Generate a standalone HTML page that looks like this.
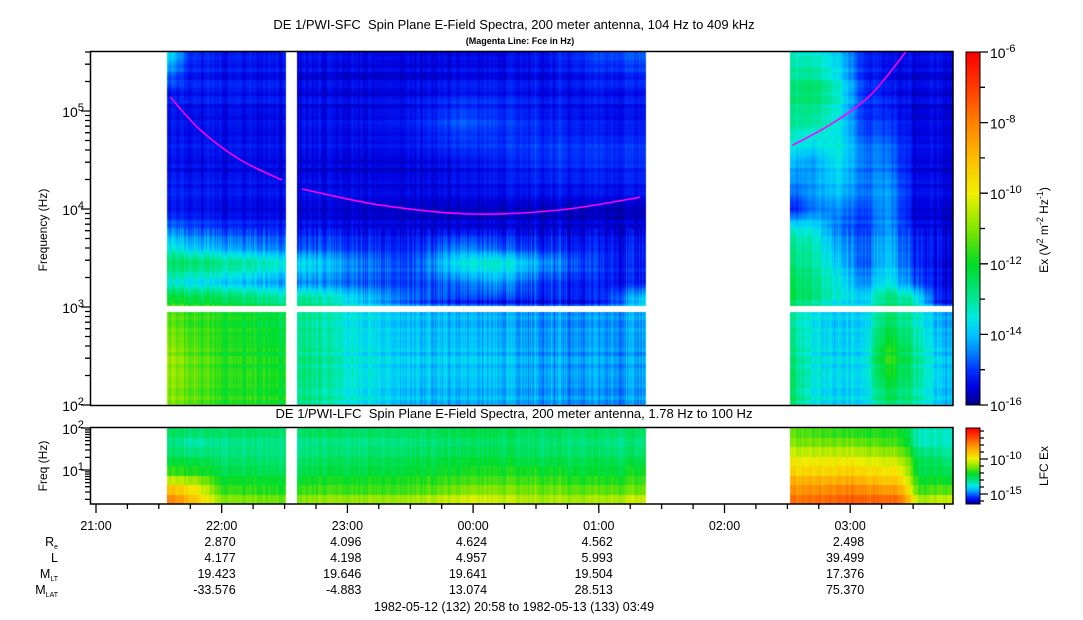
<!DOCTYPE html>
<html><head><meta charset="utf-8">
<style>
html,body{margin:0;padding:0;background:#fff;}
body{width:1083px;height:620px;position:relative;overflow:hidden;font-family:"Liberation Sans",sans-serif;}
canvas,svg{position:absolute;left:0;top:0;}
</style></head>
<body>
<canvas id="heat" width="1083" height="620"></canvas>
<svg id="ov" width="1083" height="620" xmlns="http://www.w3.org/2000/svg" font-family="Liberation Sans, sans-serif"></svg>
<script>
// ---------- DATA ----------
const sfcFreqNodes = [2.0, 2.5, 2.95, 3.05, 3.25, 3.45, 3.6, 3.8, 4.0, 4.5, 4.9, 5.2, 5.6];
const sfcA_times = [21.56, 21.75, 22.0, 22.25, 22.52];
const sfcA_vals = [
 [-11.0,-10.8,-11.3,-11.8,-13.5,-12.5,-13.5,-14.5,-15.2,-15.3,-15.3,-15.2,-13.5],
 [-11.3,-11.3,-11.6,-12.0,-13.8,-12.5,-14.0,-14.8,-15.3,-15.4,-15.4,-15.3,-15.2],
 [-11.8,-11.8,-11.8,-12.2,-14.0,-12.8,-14.3,-15.0,-15.4,-15.4,-15.4,-15.3,-15.4],
 [-11.8,-11.9,-12.0,-12.5,-14.2,-13.0,-14.5,-15.1,-15.4,-15.4,-15.4,-15.3,-15.4],
 [-11.9,-12.0,-12.2,-12.8,-14.4,-13.3,-14.6,-15.1,-15.4,-15.4,-15.4,-15.3,-15.4]];
const sfcB_times = [22.6, 23.0, 23.5, 23.9, 24.2, 24.6, 25.0, 25.38];
const sfcB_vals = [
 [-12.8,-12.8,-12.8,-12.6,-14.5,-13.5,-14.9,-15.3,-15.5,-15.5,-15.4,-15.5,-15.5],
 [-13.5,-13.5,-13.5,-13.5,-14.8,-14.3,-15.1,-15.4,-15.5,-15.5,-15.4,-15.5,-15.5],
 [-14.1,-14.0,-14.0,-14.8,-15.1,-14.9,-15.3,-15.5,-15.6,-15.5,-15.3,-15.5,-15.6],
 [-14.2,-14.0,-14.1,-15.2,-14.7,-13.5,-14.6,-15.5,-15.6,-15.3,-14.8,-15.3,-15.6],
 [-14.2,-14.1,-14.2,-15.3,-14.4,-13.3,-14.9,-15.5,-15.6,-15.2,-15.0,-15.3,-15.6],
 [-14.3,-14.3,-14.3,-15.3,-15.1,-14.3,-15.2,-15.5,-15.6,-15.0,-15.2,-15.4,-15.4],
 [-14.4,-14.3,-14.3,-15.3,-15.3,-15.0,-15.3,-15.5,-15.6,-15.0,-15.3,-15.3,-15.0],
 [-14.3,-14.3,-14.1,-13.5,-15.3,-15.2,-15.3,-15.5,-15.6,-15.0,-15.3,-15.3,-14.8]];
const sfcC_times = [26.52, 26.7, 26.9, 27.1, 27.3, 27.5, 27.7, 27.82];
const sfcC_vals = [
 [-12.5,-12.8,-13.0,-12.5,-12.5,-12.8,-13.0,-13.5,-15.3,-14.0,-13.0,-12.8,-13.5],
 [-13.5,-13.5,-13.5,-12.8,-12.8,-13.0,-13.2,-13.5,-14.5,-14.2,-13.0,-12.5,-13.5],
 [-13.8,-13.8,-13.8,-13.5,-13.5,-13.8,-14.2,-14.5,-14.3,-13.5,-13.5,-13.3,-14.0],
 [-13.8,-13.8,-13.8,-13.8,-14.5,-14.8,-14.8,-15.0,-14.8,-14.5,-15.0,-15.0,-15.2],
 [-12.5,-11.5,-12.5,-12.5,-13.5,-13.8,-14.0,-14.2,-14.2,-14.5,-15.0,-15.3,-15.5],
 [-13.0,-12.8,-13.2,-13.0,-14.8,-15.0,-15.2,-15.3,-15.4,-15.4,-15.5,-15.5,-15.5],
 [-14.0,-14.0,-14.2,-15.3,-15.5,-15.5,-15.5,-15.5,-15.5,-15.5,-15.5,-15.5,-15.5],
 [-14.0,-14.0,-14.2,-15.3,-15.5,-15.5,-15.5,-15.5,-15.5,-15.5,-15.5,-15.5,-15.5]];

const lfcFreqNodes = [0.25, 0.45, 0.7, 1.0, 1.3, 1.6, 2.0];
const lfcA_times = [21.56, 21.8, 22.0, 22.52];
const lfcA_vals = [
 [-7.5,-8.2,-10.0,-11.8,-12.5,-13.0,-12.5],
 [-9.0,-9.5,-10.5,-12.0,-12.5,-13.5,-12.5],
 [-10.8,-11.5,-12.0,-12.5,-12.8,-13.2,-12.5],
 [-11.0,-11.8,-12.0,-12.5,-12.8,-13.0,-12.5]];
const lfcB_times = [22.6, 23.5, 24.0, 24.5, 25.0, 25.38];
const lfcB_vals = [
 [-10.8,-11.5,-12.0,-12.5,-12.8,-13.2,-12.5],
 [-10.5,-11.5,-11.8,-12.3,-12.5,-13.0,-12.5],
 [-10.0,-10.8,-11.5,-12.0,-12.3,-12.8,-12.3],
 [-10.5,-11.0,-11.5,-12.0,-12.5,-12.8,-12.5],
 [-10.5,-11.2,-11.8,-12.3,-12.5,-13.0,-12.5],
 [-10.0,-11.0,-11.5,-12.0,-12.5,-13.0,-12.5]];
const lfcC_times = [26.52, 27.0, 27.4, 27.55, 27.82];
const lfcC_vals = [
 [-7.5,-8.0,-8.5,-9.5,-10.0,-11.0,-11.5],
 [-7.0,-7.5,-8.3,-9.3,-10.0,-11.0,-12.0],
 [-7.2,-8.0,-9.0,-9.8,-10.5,-11.5,-12.0],
 [-10.5,-11.5,-12.0,-12.5,-12.5,-13.5,-13.5],
 [-10.0,-11.0,-12.0,-12.5,-13.0,-13.5,-13.5]];

const fceA_t = [21.59, 21.83, 22.15, 22.48];
const fceA_f = [5.143, 4.806, 4.5, 4.296];
const fceB_t = [22.64, 23.26, 23.975, 24.69, 25.33];
const fceB_f = [4.204, 4.04, 3.949, 3.99, 4.12];
const fceC_t = [26.54, 26.84, 27.16, 27.44];
const fceC_f = [4.65, 4.86, 5.16, 5.6];

const timeTicks = ["21:00","22:00","23:00","00:00","01:00","02:00","03:00"];
const rowLabels = ["R","L","M","M"];
const rowSubs = ["e","","LT","LAT"];
const colHours = [22, 23, 24, 25, 27];
const ReVals = ["2.870","4.096","4.624","4.562","2.498"];
const LVals = ["4.177","4.198","4.957","5.993","39.499"];
const MLTVals = ["19.423","19.646","19.641","19.504","17.376"];
const MLATVals = ["-33.576","-4.883","13.074","28.513","75.370"];

// ---------- SCALES ----------
const xT = h => 96 + (h - 21) * 125.7;
const hOfX = x => 21 + (x - 96) / 125.7;
const ySFC = lf => 111 - (lf - 5) * 98;
const lfSFC = y => 5 - (y - 111) / 98;
const yLFC = lf => 470 - (lf - 1) * 42;
const lfLFC = y => 1 - (y - 470) / 42;
const yCB = v => 52 + (-6 - v) * 35.3;
const yCB2 = v => 459 + (-10 - v) * 7;

const stops = [[0,0,0,130],[0.05,0,0,225],[0.1,0,50,255],[0.15,0,130,255],[0.2,0,195,255],[0.25,0,235,225],[0.3,0,230,150],[0.4,0,220,40],[0.5,130,230,0],[0.6,240,240,0],[0.7,255,190,0],[0.8,255,130,0],[0.9,255,60,0],[1,255,0,0]];
function cmap(t){t=Math.max(0,Math.min(1,t));for(let i=1;i<stops.length;i++){if(t<=stops[i][0]){const a=stops[i-1],b=stops[i],u=(t-a[0])/(b[0]-a[0]);return [a[1]+(b[1]-a[1])*u,a[2]+(b[2]-a[2])*u,a[3]+(b[3]-a[3])*u];}}return [255,0,0];}
function interp(arr,v){if(v<=arr[0])return [0,0];for(let i=1;i<arr.length;i++){if(v<=arr[i])return [i-1,(v-arr[i-1])/(arr[i]-arr[i-1])];}return [arr.length-2,1];}
function sample(times,freqs,vals,h,lf){const [i,u]=interp(times,h);const [j,w]=interp(freqs,lf);
 const a=vals[i][j],b=vals[i][j+1],c=vals[i+1][j],d=vals[i+1][j+1];
 return (a*(1-w)+b*w)*(1-u)+(c*(1-w)+d*w)*u;}
function hs(n){const s=Math.sin(n*12.9898)*43758.5453;return s-Math.floor(s);}

const cv=document.getElementById('heat');const ctx=cv.getContext('2d');
const img=ctx.createImageData(1083,620);const D=img.data;
function px(x,y,c){const k=(y*1083+x)*4;D[k]=c[0];D[k+1]=c[1];D[k+2]=c[2];D[k+3]=255;}
const segs=[[167,286,sfcA_times,sfcA_vals,lfcA_times,lfcA_vals],[297,646,sfcB_times,sfcB_vals,lfcB_times,lfcB_vals],[790,953,sfcC_times,sfcC_vals,lfcC_times,lfcC_vals]];
segs.forEach(s=>{
 for(let x=s[0];x<s[1];x++){
  const h=hOfX(x+0.5);const cn=(hs(x)-0.5)*0.7;const cn2=(hs(Math.floor(x/3)+77)-0.5)*0.5;
  for(let y=51;y<405;y++){
   if(y>=306&&y<312)continue;
   const lf=lfSFC(y+0.5);const rn=(hs(Math.floor(y/4)*7+3)-0.5)*0.35;
   let v=sample(s[2],sfcFreqNodes,s[3],h,lf)+cn*(lf<3.8?1:0.4)+cn2*0.5+rn;
   px(x,y,cmap((v+16)/10));
  }
  for(let y=428;y<504;y++){
   const band=Math.floor((y-428)/9.5);const lf=lfLFC(428+band*9.5+4.75);
   let v=sample(s[4],lfcFreqNodes,s[5],h,lf)+cn*0.9+cn2*0.4;
   px(x,y,cmap((v+16.4)/10.8));
  }
 }
});
for(let y=52;y<405;y++){const v=-6-(y-52)/35.3;const c=cmap((v+16)/10);for(let x=966;x<980;x++)px(x,y,c);}
for(let y=428;y<504;y++){const v=-10-(y-459)/7;const c=cmap((v+16.4)/10.8);for(let x=966;x<980;x++)px(x,y,c);}
ctx.putImageData(img,0,0);

// ---------- OVERLAY ----------
const NS='http://www.w3.org/2000/svg';const sv=document.getElementById('ov');
function el(t,a,p){const e=document.createElementNS(NS,t);for(const k in a)e.setAttribute(k,a[k]);(p||sv).appendChild(e);return e;}
function txt(x,y,s,size,anchor,name,extra){const e=el('text',Object.assign({x:x,y:y,'font-size':size,'text-anchor':anchor||'start',fill:'#000'},extra||{}));e.textContent=s;


return e;}
function pow(x,y,base,exp,size,name,anchor){const e=el('text',{x:x,y:y,'font-size':size,'text-anchor':anchor||'end',fill:'#000'});


const a=el('tspan',{},e);a.textContent=base;const b=el('tspan',{dy:-6,'font-size':size*0.8},e);b.textContent=exp;return e;}

const f1=el('rect',{x:90.5,y:51.5,width:862.5,height:354,fill:'none',stroke:'#000','stroke-width':1.5});


const f2=el('rect',{x:90.5,y:427.5,width:862.5,height:76.5,fill:'none',stroke:'#000','stroke-width':1.5});


const f3=el('rect',{x:966,y:52,width:14,height:353,fill:'none',stroke:'#000','stroke-width':1});


const f4=el('rect',{x:966,y:428,width:14,height:76,fill:'none',stroke:'#000','stroke-width':1});



// fce lines (smooth Catmull-Rom through data points)
[[fceA_t,fceA_f],[fceB_t,fceB_f],[fceC_t,fceC_f]].forEach(p=>{
 const P=p[0].map((t,k)=>[xT(t),ySFC(p[1][k])]);
 let d=`M${P[0][0].toFixed(1)},${P[0][1].toFixed(1)}`;
 for(let i=0;i<P.length-1;i++){const p0=P[Math.max(0,i-1)],p1=P[i],p2=P[i+1],p3=P[Math.min(P.length-1,i+2)];
  const c1=[p1[0]+(p2[0]-p0[0])/6,p1[1]+(p2[1]-p0[1])/6],c2=[p2[0]-(p3[0]-p1[0])/6,p2[1]-(p3[1]-p1[1])/6];
  d+=`C${c1[0].toFixed(1)},${c1[1].toFixed(1)} ${c2[0].toFixed(1)},${c2[1].toFixed(1)} ${p2[0].toFixed(1)},${p2[1].toFixed(1)}`;}
 const l=el('path',{d:d,fill:'none',stroke:'#ff00ff','stroke-width':1.6});
 
 
});

let tk='';
for(let d=2;d<=5;d++){for(let m=1;m<10;m++){const lf=d+Math.log10(m);if(lf>5.612)break;const y=ySFC(lf);tk+=`M90 ${y.toFixed(1)}h${m==1?-9:-5}`;}}
for(let d=0;d<=1;d++){for(let m=1;m<10;m++){const lf=d+Math.log10(m);if(lf<0.25||lf>2)continue;const y=yLFC(lf);tk+=`M90 ${y.toFixed(1)}h${m==1?-9:-5}`;}}
tk+=`M90 ${yLFC(2)}h-9`;
for(let v=-6;v>=-16;v--){tk+=`M980 ${yCB(v).toFixed(1)}h${v%2==0?8:5}`;}
for(let v=-6;v>=-16;v--){const y=yCB2(v);if(y<428||y>504)continue;tk+=`M980 ${y.toFixed(1)}h${(v==-10||v==-15)?8:4}`;}
for(let q=0;q<=27;q++){const h=21+q*0.25;const x=xT(h);if(x>953)break;tk+=`M${x.toFixed(1)} 504v${q%4==0?9:5}`;}
const tp=el('path',{d:tk,stroke:'#000','stroke-width':1.3,fill:'none'});



for(let d=2;d<=5;d++)pow(84,ySFC(d)+6,'10',String(d),14,'sfc-y-tick-label');
pow(84,yLFC(2)+6,'10','2',14,'lfc-y-tick-label');
pow(84,yLFC(1)+6,'10','1',14,'lfc-y-tick-label');
for(let v=-6;v>=-16;v-=2)pow(990,yCB(v)+6,'10',String(v),14,'colorbar-tick-label','start');
pow(990,yCB2(-10)+6,'10','-10',14,'lfc-colorbar-tick-label','start');
pow(990,yCB2(-15)+6,'10','-15',14,'lfc-colorbar-tick-label','start');

txt(47,230,'Frequency (Hz)',12,'middle','sfc-y-axis-title',{transform:'rotate(-90 47 230)'});
txt(47,466,'Freq (Hz)',12,'middle','lfc-y-axis-title',{transform:'rotate(-90 47 466)'});
const ct=el('text',{x:1048,y:230,'font-size':12,'text-anchor':'middle',transform:'rotate(-90 1048 230)'});


ct.innerHTML='Ex (V<tspan dy="-5" font-size="9">2</tspan><tspan dy="5"> m</tspan><tspan dy="-5" font-size="9">-2</tspan><tspan dy="5"> Hz</tspan><tspan dy="-5" font-size="9">-1</tspan><tspan dy="5">)</tspan>';
txt(1048,466,'LFC Ex',12,'middle','lfc-colorbar-title',{transform:'rotate(-90 1048 466)'});

txt(514,29,'DE 1/PWI-SFC\u00a0\u00a0Spin Plane E-Field Spectra, 200 meter antenna, 104 Hz to 409 kHz',13,'middle','sfc-chart-title');
txt(520,44,'(Magenta Line: Fce in Hz)',9,'middle','sfc-subtitle',{'font-weight':'bold'});
txt(514,418,'DE 1/PWI-LFC\u00a0\u00a0Spin Plane E-Field Spectra, 200 meter antenna, 1.78 Hz to 100 Hz',13,'middle','lfc-chart-title');

timeTicks.forEach((s,i)=>txt(xT(21+i),530,s,12.5,'middle','time-tick-label'));
const rowY=[546,562,578,594];
rowLabels.forEach((s,i)=>{const e=el('text',{x:58,y:rowY[i],'font-size':12.5,'text-anchor':'end'});


const a=el('tspan',{},e);a.textContent=s;if(rowSubs[i]){const b=el('tspan',{dy:3,'font-size':7},e);b.textContent=rowSubs[i];}});
[ReVals,LVals,MLTVals,MLATVals].forEach((arr,r)=>arr.forEach((s,i)=>txt(xT(colHours[i])+14,rowY[r],s,12.5,'end','ephemeris-value')));
txt(514,611,'1982-05-12 (132) 20:58 to 1982-05-13 (133) 03:49',12.5,'middle','time-range-label');
</script>
</body></html>
